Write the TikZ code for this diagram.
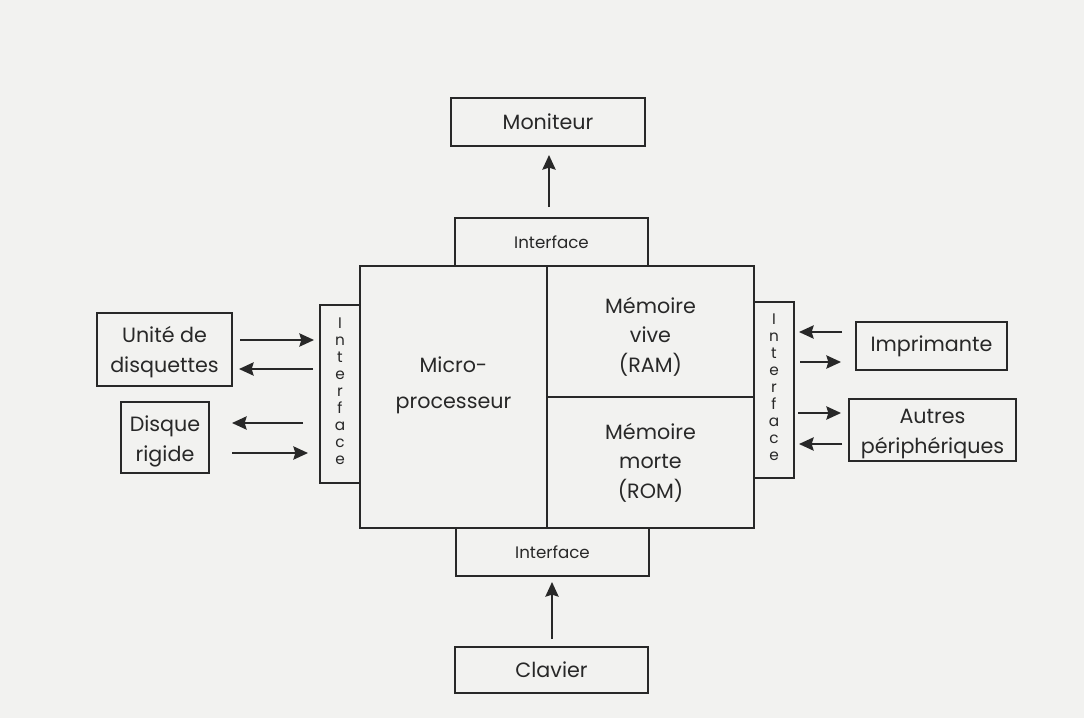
\documentclass[tikz,border=0pt]{standalone}
\usepackage{fontspec}
\setmainfont{Poppins}
\usetikzlibrary{fit,arrows.meta}
\definecolor{paper}{RGB}{242,242,240}
\definecolor{ink}{RGB}{40,40,40}
\tikzset{
  box/.style={draw=ink, line width=1.2pt, inner sep=0pt},
  lbl/.style={text=ink, font=\fontsize{15.5}{22}\selectfont, align=center},
  ilbl/.style={text=ink, font=\fontsize{12.5}{15}\selectfont, align=center},
  vlbl/.style={text=ink, font=\fontsize{11.5}{12.7}\selectfont, align=center},
  arr/.style={draw=ink, line width=1.3pt, -{Stealth[length=11pt,width=10pt,inset=1.5pt]}},
}
\begin{document}
\begin{tikzpicture}[x=0.75pt,y=-0.75pt]
\fill[paper] (0,0) rectangle (1084,718);
\useasboundingbox (0,0) rectangle (1084,718);
% top
\node[box, fit={(451,98) (645,146)}, label={[lbl]center:Moniteur}] (mon) {};
\node[box, fit={(455,218) (648,266)}, label={[ilbl]center:Interface}] (itop) {};
% main
\node[box, fit={(360,266) (547,528)}, label={[lbl, yshift=9pt, font=\fontsize{15.5}{27}\selectfont]center:{Micro-\\processeur}}] (cpu) {};
\node[box, fit={(547,266) (754,397)}, label={[lbl, yshift=-4pt]center:{Mémoire\\vive\\(RAM)}}] (ram) {};
\node[box, fit={(547,397) (754,528)}, label={[lbl]center:{Mémoire\\morte\\(ROM)}}] (rom) {};
% bottom
\node[box, fit={(456,528) (649,576)}, label={[ilbl]center:Interface}] (ibot) {};
\node[box, fit={(455,647) (648,693)}, label={[lbl]center:Clavier}] (clav) {};
% left
\node[box, fit={(320,305) (360,483)}, label={[vlbl, yshift=2pt]center:{I\\n\\t\\e\\r\\f\\a\\c\\e}}] (ileft) {};
\node[box, fit={(97,313) (232,386)}, label={[lbl, yshift=-2pt]center:{Unité de\\disquettes}}] (disq) {};
\node[box, fit={(121,402) (209,473)}, label={[lbl, yshift=-3pt]center:{Disque\\rigide}}] (hd) {};
% right
\node[box, fit={(754,302) (794,478)}, label={[vlbl, yshift=2pt]center:{I\\n\\t\\e\\r\\f\\a\\c\\e}}] (iright) {};
\node[box, fit={(856,322) (1007,370)}, label={[lbl]center:Imprimante}] (impr) {};
\node[box, fit={(849,399) (1016,461)}, label={[lbl, yshift=-3pt]center:{Autres\\périphériques}}] (autres) {};
% arrow coordinates
\coordinate (a1s) at (549,207); \coordinate (a1e) at (549,155);
\coordinate (a2s) at (552,639); \coordinate (a2e) at (552,582);
\coordinate (l1s) at (240,340); \coordinate (l1e) at (314,340);
\coordinate (l2s) at (313,369); \coordinate (l2e) at (239,369);
\coordinate (l3s) at (303,423); \coordinate (l3e) at (232,423);
\coordinate (l4s) at (232,453); \coordinate (l4e) at (308,453);
\coordinate (r1s) at (842,332); \coordinate (r1e) at (799,332);
\coordinate (r2s) at (800,362); \coordinate (r2e) at (841,362);
\coordinate (r3s) at (798,413); \coordinate (r3e) at (841,413);
\coordinate (r4s) at (842,444); \coordinate (r4e) at (799,444);
\foreach \a in {a1,a2,l1,l2,l3,l4,r1,r2,r3,r4}
  \draw[arr] (\a s) -- (\a e);
\end{tikzpicture}
\end{document}
